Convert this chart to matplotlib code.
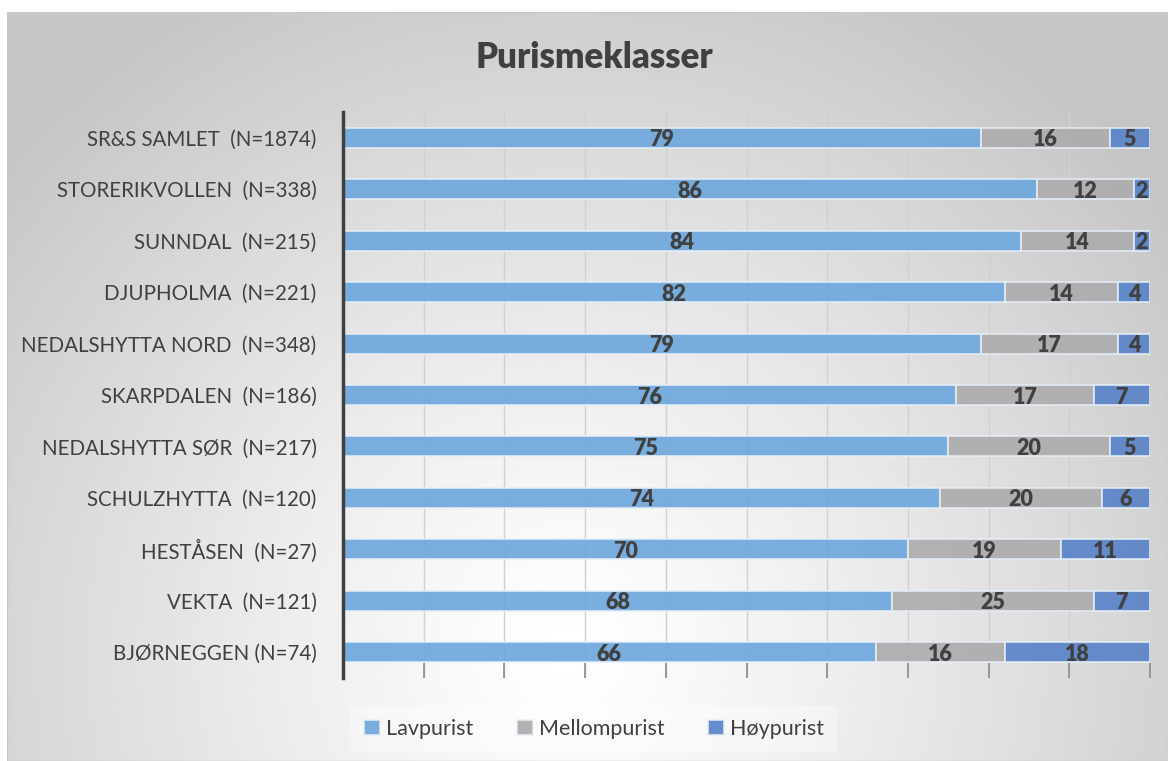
import numpy as np
import matplotlib
matplotlib.use("Agg")
import matplotlib.pyplot as plt
from matplotlib.patches import Rectangle

plt.rcParams['font.family'] = ['Lato', 'DejaVu Sans']

# data: share of respondents (%) in each purism class, per site
sites = ["SR&S SAMLET  (N=1874)", "STORERIKVOLLEN  (N=338)", "SUNNDAL  (N=215)",
         "DJUPHOLMA  (N=221)", "NEDALSHYTTA NORD  (N=348)", "SKARPDALEN  (N=186)",
         "NEDALSHYTTA SØR  (N=217)", "SCHULZHYTTA  (N=120)", "HESTÅSEN  (N=27)",
         "VEKTA  (N=121)", "BJØRNEGGEN (N=74)"]
lavpurist = [79, 86, 84, 82, 79, 76, 75, 74, 70, 68, 66]
mellompurist = [16, 12, 14, 14, 17, 17, 20, 20, 19, 25, 16]
hoypurist = [5, 2, 2, 4, 4, 7, 5, 6, 11, 7, 18]
series_names = ["Lavpurist", "Mellompurist", "Høypurist"]
colors = ["#6fa8dc", "#adadad", "#5b84c8"]
text_col = "#404040"

W, H = 1168, 761
fig = plt.figure(figsize=(W / 100, H / 100), dpi=100)
fig.patch.set_facecolor("white")

# radial grey background of the chart area
bg = fig.add_axes([7 / W, 0, 1 - 7 / W, 1 - 12 / H], zorder=-10)
gx, gy = np.meshgrid(np.linspace(0, 1161, 400), np.linspace(0, 749, 300))
r = np.hypot(gx - 560, gy - 640) / 760.0
shade = 1.0 - 0.23 * np.clip(r, 0, 1) ** 1.2
bg.imshow(shade, cmap="gray", vmin=0, vmax=1, aspect="auto",
          extent=[0, 1, 0, 1], origin="upper", interpolation="bilinear")
bg.add_patch(Rectangle((0, 0), 1, 1, transform=bg.transAxes, fill=False,
                       edgecolor="#c8c8c8", lw=1.0))
bg.axis("off")

ax = fig.add_axes([343 / W, 1 - 678 / H, (1150 - 343) / W, (678 - 112) / H])
ax.patch.set_alpha(0)

y = np.arange(len(sites))
left = np.zeros(len(sites))
handles = []
for vals, name, c in zip([lavpurist, mellompurist, hoypurist], series_names, colors):
    vals = np.array(vals, dtype=float)
    bars = ax.barh(y, vals, left=left, height=0.39, color=c, edgecolor="#e6eef7",
                   linewidth=1.2, label=name, zorder=2, alpha=0.93)
    handles.append(bars)
    for yi, l, v in zip(y, left, vals):
        ax.text(l + v / 2, yi + 0.04, f"{v:.0f}", ha="center", va="center",
                fontsize=15.5, fontweight="heavy", color=text_col, zorder=3)
    left += vals

ax.set_xlim(0, 100)
ax.set_ylim(len(sites) - 0.5, -0.5)
ax.set_xticks(np.arange(0, 101, 10))
ax.set_xticklabels([])
ax.set_yticks(y)
ax.set_yticklabels(sites, fontsize=14.8, color=text_col)
ax.tick_params(axis="y", length=0, pad=19)
ax.tick_params(axis="x", direction="in", length=11, color="#8c8c8c", width=1.2)
ax.grid(axis="x", color="#d0d0d0", lw=1.0, zorder=0)
for s in ["top", "right", "bottom"]:
    ax.spines[s].set_visible(False)
ax.spines["left"].set_color("#404040")
ax.spines["left"].set_linewidth(2.5)

fig.text(594 / W, 1 - 57 / H, "Purismeklasser", ha="center", va="center",
         fontsize=25, fontweight="heavy", color=text_col)

leg = fig.legend(handles=handles, labels=series_names, loc="center",
                 bbox_to_anchor=(594 / W, 1 - 729 / H), ncol=3, fontsize=15.5,
                 frameon=True, handlelength=0.75, handleheight=0.75,
                 handletextpad=0.3, columnspacing=2.0, borderpad=0.6)
leg.get_frame().set_facecolor("white")
leg.get_frame().set_alpha(0.35)
leg.get_frame().set_edgecolor("none")
leg.get_frame().set_boxstyle("square", pad=0)
for t in leg.get_texts():
    t.set_color(text_col)

fig.savefig("out.png", dpi=100)
